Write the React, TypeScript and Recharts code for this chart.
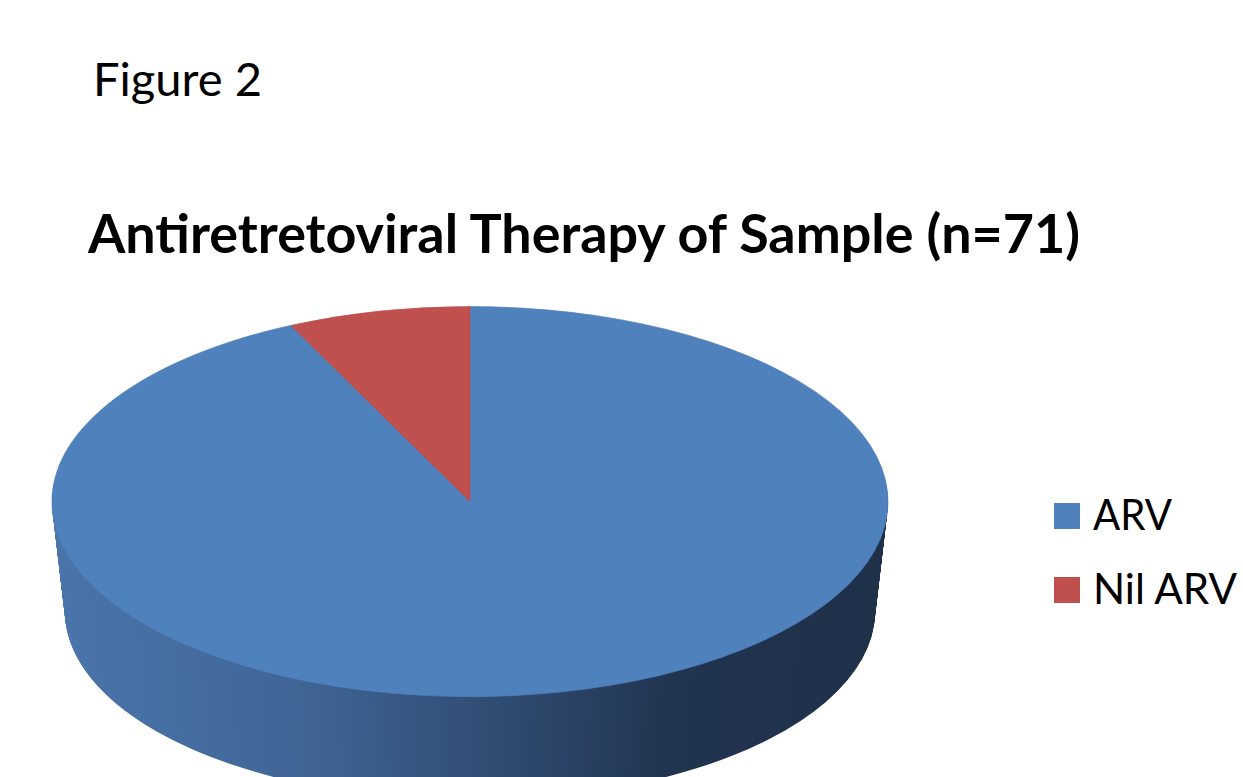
import React from 'react';
import { PieChart, Pie, Cell } from 'recharts';

// Antiretroviral therapy of sample (n=71)
const categories = ['ARV', 'Nil ARV'];
const counts = [66, 5];
const colors = ['#4f81bd', '#c0504d'];

const data = categories.map((name, i) => ({ name, value: counts[i] }));

// pie drawn as a circle and squashed vertically to look like a 3D disc
const R = 418;
const CX = 430;
const CY = 430;
const SQUASH = 195 / 418;
const DEPTH = 236;
const STEP = 2;
const TAPER = 0.055; // bottom of the disc a bit smaller (perspective)
const layers: number[] = [];
for (let k = DEPTH; k > 0; k -= STEP) layers.push(k);

const font = 'Lato, "Open Sans", sans-serif';

const App = () => {
  return (
    <div style={{ position: 'absolute', left: 0, top: 0, width: 1243, height: 777, overflow: 'hidden', background: '#fff' }}>
      <svg width={0} height={0} style={{ position: 'absolute' }}>
        <defs>
          <linearGradient id="side3d" x1="0" y1="0" x2="1" y2="0">
            <stop offset="0" stopColor="#4a75ab" />
            <stop offset="0.3" stopColor="#3f6595" />
            <stop offset="0.55" stopColor="#2f4a70" />
            <stop offset="0.75" stopColor="#213450" />
            <stop offset="1" stopColor="#1f3049" />
          </linearGradient>
        </defs>
      </svg>

      <div
        style={{
          position: 'absolute',
          left: 470 - CX,
          top: 502 - CY * SQUASH,
          transform: `scaleY(${SQUASH})`,
          transformOrigin: 'top left',
        }}
      >
        <PieChart width={CX * 2} height={CY + R + DEPTH + 12} margin={{ top: 0, right: 0, bottom: 0, left: 0 }}>
          {layers.map((k) => (
            <Pie
              key={`side-${k}`}
              data={data}
              dataKey="value"
              nameKey="name"
              cx={CX}
              cy={CY + k}
              outerRadius={R - k * TAPER}
              startAngle={90}
              endAngle={-270}
              stroke="none"
              legendType="none"
              isAnimationActive={false}
            >
              {data.map((d) => (
                <Cell key={d.name} fill="url(#side3d)" />
              ))}
            </Pie>
          ))}
          <Pie
            data={data}
            dataKey="value"
            nameKey="name"
            cx={CX}
            cy={CY}
            outerRadius={R}
            startAngle={90}
            endAngle={-270}
            isAnimationActive={false}
          >
            {data.map((d, i) => (
              <Cell key={d.name} fill={colors[i]} stroke={colors[i]} strokeWidth={1} />
            ))}
          </Pie>
        </PieChart>
      </div>

      <svg width={1243} height={777} style={{ position: 'absolute', left: 0, top: 0, pointerEvents: 'none' }}>
        <text x={93} y={96} fontFamily={font} fontSize={46} fill="#000" textLength={169} lengthAdjust="spacingAndGlyphs">
          Figure 2
        </text>
        <text x={88} y={253} fontFamily={font} fontWeight={700} fontSize={54} fill="#000" textLength={992} lengthAdjust="spacingAndGlyphs">
          Antiretretoviral Therapy of Sample (n=71)
        </text>
        {categories.map((c, i) => (
          <g key={c}>
            <rect x={1054} y={503 + i * 74} width={26} height={26} fill={colors[i]} />
            <text
              x={1093}
              y={530 + i * 74}
              fontFamily={font}
              fontSize={42}
              fill="#000"
              textLength={c === 'ARV' ? 79 : 144}
              lengthAdjust="spacingAndGlyphs"
            >
              {c}
            </text>
          </g>
        ))}
      </svg>
    </div>
  );
};

export default App;
